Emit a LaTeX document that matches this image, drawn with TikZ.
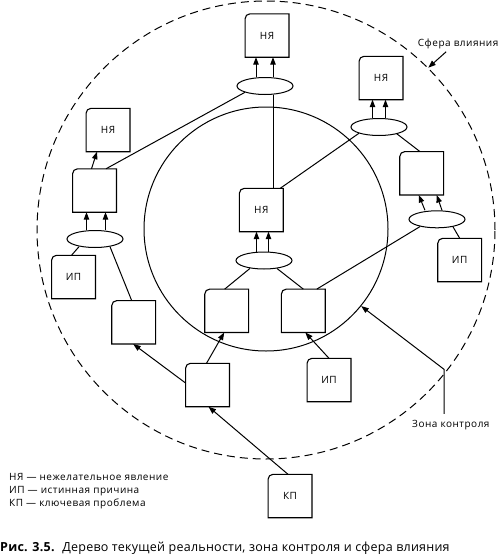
\documentclass[tikz,border=0pt]{standalone}
\usepackage{fontspec}
\setmainfont{Open Sans}[LetterSpace=5]
\usetikzlibrary{shapes.geometric,arrows.meta,calc}
\begin{document}
\begin{tikzpicture}[x=1pt,y=-1pt,
  box/.style={rectangle, minimum width=43.5pt, minimum height=43pt, inner sep=0pt, font=\fontsize{10}{12}\selectfont},
  ell/.style={ellipse, draw, line width=1pt, minimum width=56pt, minimum height=17pt, inner sep=0pt},
  conn/.style={line width=1pt},
  arr/.style={line width=1pt, -{Triangle[length=7.5pt,width=5.5pt]}},
  lbl/.style={inner sep=0.5pt, font=\fontsize{10}{12}\selectfont},
  legend/.style={inner sep=0pt, anchor=base west, font=\fontsize{10}{12}\selectfont}
]
\useasboundingbox (0,0) rectangle (500,557);

% zones
\node[circle, draw, line width=1pt, minimum size=244pt, inner sep=0pt] (zone) at (266,229) {};
\node[circle, draw, line width=1pt, dash pattern=on 8pt off 5pt, minimum size=458pt, inner sep=0pt] (sphere) at (266,230) {};

% boxes
\node[box] (nyTop)   at (267,35.5)  {НЯ};
\node[box] (nyRight) at (381,78)    {НЯ};
\node[box] (nyLeft)  at (108,130)   {НЯ};
\node[box] (bLeft)   at (94.5,190.5) {};
\node[box] (ipLeft)  at (73.5,277)  {ИП};
\node[box] (bLL)     at (133.7,322.3) {};
\node[box] (bLow)    at (207.5,385) {};
\node[box] (bInL)    at (226.7,310.8) {};
\node[box] (bInR)    at (303.3,310.8) {};
\node[box] (ipMid)   at (329,380)   {ИП};
\node[box] (kp)      at (290,496)   {КП};
\node[box] (nyC)     at (261.3,210) {НЯ};
\node[box] (bRight)  at (421.7,173.3) {};
\node[box] (ipRight) at (459.7,260) {ИП};

\foreach \n in {nyTop,nyRight,nyLeft,bLeft,ipLeft,bLL,bLow,bInL,bInR,ipMid,kp,nyC,bRight,ipRight}
  \draw[line width=1.1pt] (\n.south west) -- ([yshift=-5pt]\n.north west)
     to[out=90,in=180] ([xshift=5pt]\n.north west) -- (\n.north east) -- (\n.south east) -- cycle;

% ellipses
\node[ell] (eTop) at (265,86) {};
\node[ell] (eR1)  at (379,127) {};
\node[ell] (eL)   at (95,239) {};
\node[ell] (eC)   at (264,260.5) {};
\node[ell] (eR2)  at (437,219.3) {};

% arrows into effects
\draw[arr] ([xshift=-9pt]eTop.north) -- ([xshift=-9pt]eTop.north |- nyTop.south);
\draw[arr] ([xshift=8pt]eTop.north) -- ([xshift=8pt]eTop.north |- nyTop.south);
\draw[arr] ([xshift=-6.5pt]eR1.north) -- ([xshift=-6.5pt]eR1.north |- nyRight.south);
\draw[arr] ([xshift=6.5pt]eR1.north) -- ([xshift=6.5pt]eR1.north |- nyRight.south);
\draw[arr] ([xshift=-8.5pt]eL.north) -- ([xshift=-8.5pt]eL.north |- bLeft.south);
\draw[arr] ([xshift=10.5pt]eL.north) -- ([xshift=10.5pt]eL.north |- bLeft.south);
\draw[arr] ([xshift=-7.5pt]eC.north) -- ([xshift=-7.5pt]eC.north |- nyC.south);
\draw[arr] ([xshift=4.5pt]eC.north) -- ([xshift=4.5pt]eC.north |- nyC.south);
\draw[arr] ([xshift=-12pt]eR2.north) -- ([xshift=-3pt]bRight.south);
\draw[arr] ([xshift=5pt]eR2.north) -- ([xshift=15pt]bRight.south);

\draw[arr] ([xshift=-3pt]bLeft.north) -- ([xshift=-11pt]nyLeft.south);
\draw[arr] ([yshift=2pt]bLow.west) -- ([xshift=-0.5pt]bLL.south);
\draw[arr] ([xshift=-1pt]bLow.north) -- ([xshift=-2.5pt]bInL.south);
\draw[arr] ([xshift=-2pt]kp.north) -- ([xshift=1pt]bLow.south);
\draw[arr] (ipMid.north) -- ([xshift=2pt]bInR.south);

% plain connectors
\draw[conn] ([xshift=11.5pt]bLeft.north) -- (eTop.south west);
\draw[conn] ([xshift=-2pt]ipLeft.north) -- ([xshift=-16pt,yshift=1.3pt]eL.south);
\draw[conn] ([xshift=15pt,yshift=1.3pt]eL.south) -- ([xshift=-2pt]bLL.north);
\draw[conn] ([xshift=-14pt,yshift=1.1pt]eC.south) -- ([xshift=-2pt]bInL.north);
\draw[conn] ([xshift=13pt,yshift=1pt]eC.south) -- (bInR.north);
\draw[conn] ([xshift=-17pt,yshift=1.7pt]eR2.south) -- ([xshift=13.5pt]bInR.north);
\draw[conn] (ipRight.north) -- ([xshift=15.7pt,yshift=2pt]eR2.south);
\draw[conn] ([xshift=17.7pt,yshift=2.3pt]eR1.south) -- ([xshift=-1.7pt]bRight.north);
\draw[conn] (eR1.south west) -- ([xshift=-3pt]nyC.north east);
\draw[conn] ([xshift=8pt,yshift=0.3pt]eTop.south) -- ([xshift=8pt]eTop.south |- nyC.north);

% zone labels
\node[lbl, anchor=base east] (sfera) at (499,46.7) {Сфера влияния};
\draw[arr] ([xshift=-12pt,yshift=-2pt]sfera.south) -- (sphere.45);
\node[lbl, anchor=base west] (zona) at (411.5,427.7) {Зона контроля};
\coordinate (zbend) at (444,369.3);
\draw[arr] (zona.north -| zbend) ++(0,-6) -- (zbend) -- (zone.-39);

% legend
\node[legend] (l1) at (9,480) {НЯ — нежелательное явление};
\node[legend] (l2) at (9,493.3) {ИП — истинная причина};
\node[legend] (l3) at (9,506) {КП — ключевая проблема};

% caption
\node[inner sep=0pt, anchor=base west, font=\fontsize{12.5}{14}\selectfont\addfontfeature{LetterSpace=2}] (cap) at (0,551.7)
  {\textbf{Рис. 3.5.}\hspace{0.6em}Дерево текущей реальности, зона контроля и сфера влияния};
\end{tikzpicture}
\end{document}
